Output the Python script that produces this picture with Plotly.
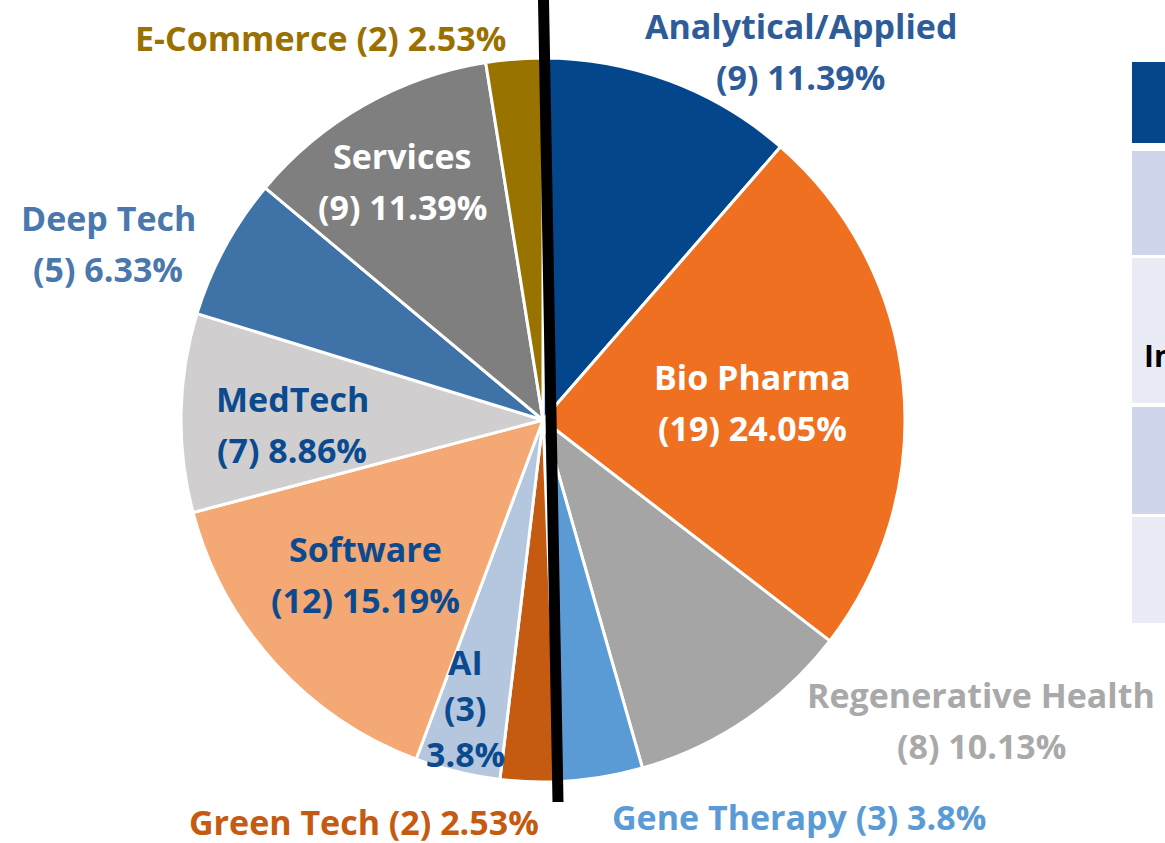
import plotly.graph_objects as go

# ---- data ----
categories = ["Analytical/Applied", "Bio Pharma", "Regenerative Health", "Gene Therapy",
              "Green Tech", "AI", "Software", "MedTech", "Deep Tech", "Services", "E-Commerce"]
counts = [9, 19, 8, 3, 2, 3, 12, 7, 5, 9, 2]

# ---- styling ----
slice_colors = ["#03468B", "#F07021", "#A5A5A5", "#5B9BD5", "#C55A11", "#B4C7DE",
                "#F4A874", "#D0CECE", "#3F72A6", "#7F7F7F", "#997300"]
label_colors = ["#2E5C99", "#FFFFFF", "#A9A9A9", "#5B9BD5", "#C55A11", "#0B4A8E",
                "#0B4A8E", "#0B4A8E", "#4A78AD", "#FFFFFF", "#9A7000"]
label_mode = ["two", "two", "two", "one", "one", "three", "two", "two", "two", "two", "one"]
# pixel centre of first line of each label
label_pos = [(801, 26), (752, 377), (981, 695), (799, 817), (364, 822), (465, 662),
             (365, 549), (292, 399), (108, 218), (402, 156), (320, 38)]
line_gap = 51

W, H = 1165, 843
FONT = "Open Sans"
FSIZE = 34

total = sum(counts)

def pct(v):
    return f"{round(v / total * 100, 2):g}%"

fig = go.Figure()
cx, cy, R = 543, 420, 362
fig.add_trace(go.Pie(
    labels=categories, values=counts, sort=False, direction="clockwise", rotation=0,
    marker=dict(colors=slice_colors, line=dict(color="white", width=3)),
    textinfo="none", hoverinfo="label+value+percent", showlegend=False,
    domain=dict(x=[(cx - R) / W, (cx + R) / W], y=[(H - cy - R) / H, (H - cy + R) / H]),
))

annotations = []
for name, n, col, mode, (px, py) in zip(categories, counts, label_colors, label_mode, label_pos):
    stat = f"({n}) {pct(n)}"
    if mode == "one":
        lines = [f"{name} {stat}"]
        gap = line_gap
    elif mode == "two":
        lines = [name, stat]
        gap = line_gap
    else:
        lines = [name, f"({n})", pct(n)]
        gap = 46
    for i, t in enumerate(lines):
        annotations.append(dict(
            x=px / W, y=1 - (py + i * gap) / H, xref="paper", yref="paper",
            text=f"<b>{t}</b>", showarrow=False, xanchor="center", yanchor="middle",
            font=dict(family=FONT, size=FSIZE, color=col),
        ))

# partially visible table on the right
rows = [(62, 143, "#03468B"), (151, 255, "#CFD5EA"), (258, 403, "#E9EBF5"),
        (407, 514, "#CFD5EA"), (517, 623, "#E9EBF5")]
shapes = []
for y0, y1, c in rows:
    shapes.append(dict(type="rect", xref="paper", yref="paper", x0=1132 / W, x1=1.01,
                       y0=1 - y1 / H, y1=1 - y0 / H, fillcolor=c, line=dict(width=0), layer="below"))
annotations.append(dict(x=1142 / W, y=1 - 355 / H, xref="paper", yref="paper", text="<b>In</b>",
                        showarrow=False, xanchor="left", yanchor="middle",
                        font=dict(family=FONT, size=FSIZE - 4, color="#000000")))

# black divider line
shapes.append(dict(type="line", xref="paper", yref="paper", x0=543.5 / W, y0=1.0,
                   x1=558 / W, y1=1 - 802 / H, line=dict(color="black", width=11), layer="above"))

fig.update_layout(width=W, height=H, margin=dict(l=0, r=0, t=0, b=0),
                  paper_bgcolor="white", plot_bgcolor="white",
                  annotations=annotations, shapes=shapes)
fig.write_html("out.html", config={"displayModeBar": False},
               post_script="document.body.style.margin='0';document.body.style.overflow='hidden';")
